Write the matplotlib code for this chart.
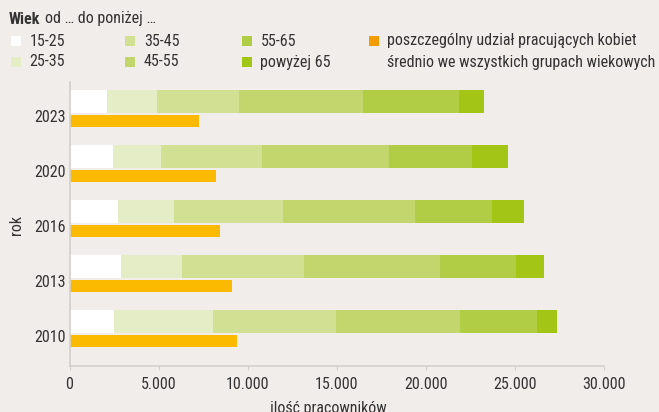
import matplotlib.pyplot as plt
from matplotlib import font_manager
from matplotlib.patches import Rectangle
from matplotlib.ticker import FuncFormatter
import numpy as np

# wąska czcionka, jak w oryginale - bierzemy to, co jest zainstalowane
fonty = font_manager.fontManager.ttflist
nazwy = {f.name for f in fonty}
if 'Liberation Sans Narrow' in nazwy:
    rodzina, rozciag, fs = 'Liberation Sans Narrow', 'normal', 12
elif 'Roboto Condensed' in nazwy:
    rodzina, rozciag, fs = 'Roboto Condensed', 'normal', 11.5
elif any(f.name == 'DejaVu Sans' and f.stretch == 'condensed' for f in fonty):
    rodzina, rozciag, fs = 'DejaVu Sans', 'condensed', 10.5
else:
    rodzina, rozciag, fs = 'DejaVu Sans', 'normal', 9.5
plt.rcParams['font.family'] = [rodzina, 'DejaVu Sans']
plt.rcParams['font.stretch'] = rozciag

# dane (liczba pracujących kobiet wg grup wieku)
lata = ['2010', '2013', '2016', '2020', '2023']
grupy = ['15-25', '25-35', '35-45', '45-55', '55-65', 'powyżej 65']
w_15_25 = [2500, 2900, 2750, 2450, 2100]
w_25_35 = [5550, 3400, 3100, 2700, 2800]
w_35_45 = [6900, 6850, 6150, 5650, 4600]
w_45_55 = [7000, 7650, 7400, 7150, 7000]
w_55_65 = [4300, 4250, 4350, 4650, 5400]
w_65 = [1100, 1600, 1800, 2000, 1400]
srednio = [9400, 9150, 8450, 8200, 7300]

kolory = ['#ffffff', '#e5edc6', '#d2e093', '#c3d66e', '#b1cd45', '#a3c616']
kolor_sredni = '#fbb900'
kolor_leg_sredni = '#f39c00'
tlo = '#f1edea'
tekst = '#333333'
os_kolor = '#d3d0cc'

fig = plt.figure(figsize=(6.59, 4.12), dpi=100, facecolor=tlo)
ax = fig.add_axes([69.5 / 659, 46 / 412, 534.2 / 659, 284 / 412])
ax.set_facecolor(tlo)

y = np.arange(len(lata))
seria = [w_15_25, w_25_35, w_35_45, w_45_55, w_55_65, w_65]
lewo = np.zeros(len(lata))
for wart, kol in zip(seria, kolory):
    ax.barh(y + 0.264, wart, left=lewo, height=0.413, color=kol, linewidth=0)
    lewo += np.array(wart)
ax.barh(y - 0.091, srednio, height=0.213, color=kolor_sredni, linewidth=0)

ax.set_xlim(0, 30000)
ax.set_ylim(-0.545, 4.618)
ax.set_xticks(np.arange(0, 30001, 5000))
ax.xaxis.set_major_formatter(FuncFormatter(lambda v, p: f'{int(v):,}'.replace(',', '.')))
ax.set_yticks(y)
ax.set_yticklabels(lata)

for s in ['top', 'right']:
    ax.spines[s].set_visible(False)
for s in ['left', 'bottom']:
    ax.spines[s].set_color(os_kolor)
    ax.spines[s].set_linewidth(1.2)
ax.tick_params(axis='x', length=3, color=os_kolor, pad=5, labelsize=fs, labelcolor=tekst)
ax.tick_params(axis='y', length=0, pad=3, labelsize=fs, labelcolor=tekst)

ax.set_xlabel('ilość pracowników', fontsize=fs, color=tekst)
ax.xaxis.set_label_coords(0.484, -0.125)
ax.xaxis.label.set_va('top')
ax.set_ylabel('rok', fontsize=fs, color=tekst)
ax.yaxis.set_label_coords(-0.085, 0.496)

# legenda
def px(x, yy):
    return x / 659, 1 - yy / 412

wiek = fig.text(*px(9, 19), 'Wiek', fontsize=fs, fontweight='bold', color=tekst, va='center')
fig.add_artist(plt.Annotation('od … do poniżej …', xy=(1, 0.5), xycoords=wiek,
                              xytext=(3, 0), textcoords='offset points',
                              fontsize=fs, color=tekst, va='center'))

poz_leg = [(10.5, 41), (10.5, 62), (125, 41), (125, 62), (241.5, 41), (241.5, 62)]
for (lx, ly), nazwa, kol in zip(poz_leg, grupy, kolory):
    fig.patches.append(Rectangle(px(lx, ly + 5), 10 / 659, 10 / 412, transform=fig.transFigure,
                                 facecolor=kol, linewidth=0))
    fig.text(*px(lx + 19, ly), nazwa, fontsize=fs, color=tekst, va='center')

fig.patches.append(Rectangle(px(368.5, 46), 10.5 / 659, 10 / 412, transform=fig.transFigure,
                             facecolor=kolor_leg_sredni, linewidth=0))
fig.text(*px(387, 41), 'poszczególny udział pracujących kobiet', fontsize=fs, color=tekst, va='center')
fig.text(*px(387, 62), 'średnio we wszystkich grupach wiekowych', fontsize=fs, color=tekst, va='center')

fig.savefig('out.png', dpi=100, facecolor=tlo)
